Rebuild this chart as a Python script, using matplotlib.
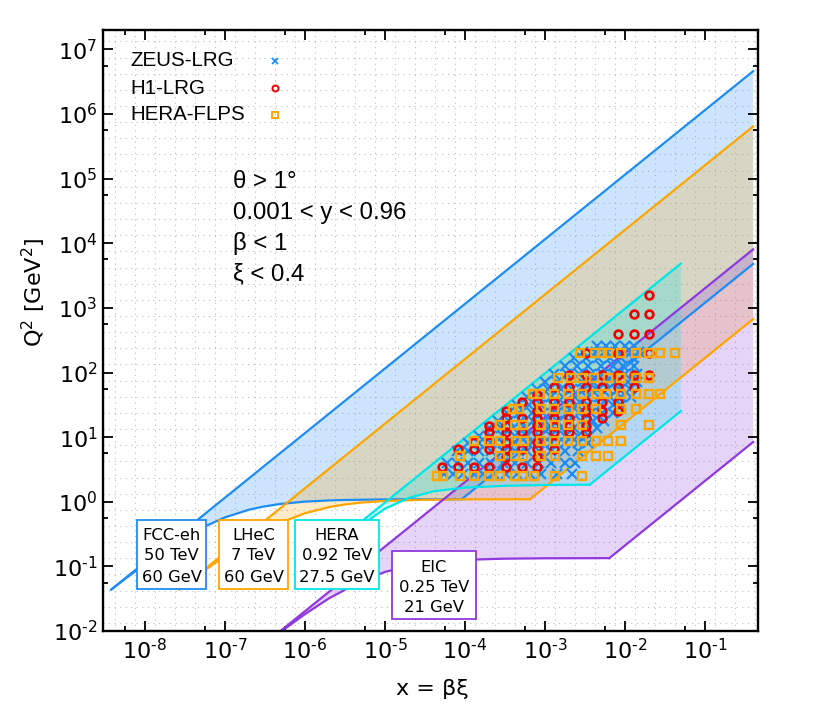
import numpy as np
import matplotlib
matplotlib.use('Agg')
import matplotlib.pyplot as plt
from matplotlib.patches import Rectangle
from matplotlib.ticker import FixedLocator, FuncFormatter, NullFormatter

# ---------------- data ----------------
# Kinematic region boundaries: x and Q2 [GeV^2]
fcc_upper_x, fcc_upper_q2 = [3.8e-9, 0.4], [0.0438, 4.61e6]
fcc_lower_x, fcc_lower_q2 = [9.13e-5, 0.4], [1.096, 4800.0]
fcc_theta_x = [3.8e-9, 6e-9, 1e-8, 2e-8, 3e-8, 5e-8, 1e-7, 2e-7, 3e-7, 5e-7, 1e-6, 2e-6, 3e-6, 1e-5, 3e-5, 9.13e-5]
fcc_theta_q2 = [0.0438, 0.0676, 0.108, 0.197, 0.271, 0.388, 0.573, 0.753, 0.841, 0.927, 1.005, 1.049, 1.064, 1.087, 1.093, 1.096]

lhec_upper_x, lhec_upper_q2 = [2.72e-8, 0.4], [0.0439, 6.45e5]
lhec_lower_x, lhec_lower_q2 = [6.52e-4, 0.4], [1.0955, 672.0]
lhec_theta_x = [2.72e-8, 5e-8, 1e-7, 2e-7, 3e-7, 5e-7, 1e-6, 2e-6, 3e-6, 5e-6, 1e-5, 3e-5, 1e-4, 6.52e-4]
lhec_theta_q2 = [0.0439, 0.078, 0.146, 0.257, 0.345, 0.476, 0.664, 0.827, 0.901, 0.970, 1.029, 1.073, 1.090, 1.0955]

hera_upper_x, hera_upper_q2 = [7.6e-7, 0.05], [0.0738, 4858.0]
hera_lower_x, hera_lower_q2 = [3.64e-3, 0.05], [1.84, 25.3]
hera_theta_x = [7.6e-7, 2e-6, 6e-6, 1e-5, 2e-5, 4e-5, 1e-4, 3e-4, 1e-3, 3.64e-3]
hera_theta_q2 = [0.0738, 0.19, 0.50, 0.78, 1.15, 1.45, 1.66, 1.76, 1.82, 1.84]

eic_upper_x, eic_upper_q2 = [2.66e-7, 0.4], [0.00537, 8064.0]
eic_lower_x, eic_lower_q2 = [6.38e-3, 0.4], [0.1342, 8.4]
eic_theta_x = [2.66e-7, 5e-7, 1e-6, 2e-6, 5e-6, 1e-5, 2e-5, 5e-5, 1e-4, 3e-4, 1e-3, 6.38e-3]
eic_theta_q2 = [0.00536, 0.00974, 0.0182, 0.032, 0.0589, 0.0819, 0.1018, 0.1191, 0.1262, 0.1315, 0.1334, 0.1342]

# Measurements: one Q2 value per row, with the x values of that row
zeus_q2 = [2.7, 4, 6, 8, 10.5, 14, 18, 24, 32, 42, 55, 72, 95, 125, 165, 210, 255]
zeus_x = [
    [5.5e-5, 7e-5, 9.5e-5, 1.3e-4, 1.7e-4, 2.3e-4, 3.3e-4, 4.5e-4, 6.5e-4, 9e-4, 1.4e-3, 2.2e-3],
    [6e-5, 8e-5, 1.1e-4, 1.5e-4, 2.1e-4, 3e-4, 4.2e-4, 6e-4, 8.5e-4, 1.2e-3, 1.8e-3, 2.4e-3],
    [8e-5, 1.1e-4, 1.5e-4, 2.1e-4, 3e-4, 4.2e-4, 6e-4, 8.5e-4, 1.2e-3, 1.8e-3, 2.6e-3],
    [1.1e-4, 1.5e-4, 2.1e-4, 3e-4, 4.2e-4, 6e-4, 8.5e-4, 1.2e-3, 1.8e-3, 2.6e-3, 3.5e-3],
    [1.5e-4, 2.1e-4, 3e-4, 4.2e-4, 6e-4, 8.5e-4, 1.2e-3, 1.8e-3, 2.6e-3, 3.6e-3],
    [2e-4, 2.8e-4, 4e-4, 5.6e-4, 8e-4, 1.1e-3, 1.6e-3, 2.3e-3, 3.3e-3, 4.5e-3],
    [2.6e-4, 3.6e-4, 5e-4, 7e-4, 1e-3, 1.4e-3, 2e-3, 2.8e-3, 4e-3, 5.5e-3],
    [3.4e-4, 4.8e-4, 6.8e-4, 9.5e-4, 1.3e-3, 1.9e-3, 2.7e-3, 3.8e-3, 5.2e-3, 7e-3],
    [4.5e-4, 6.3e-4, 9e-4, 1.25e-3, 1.8e-3, 2.5e-3, 3.5e-3, 5e-3, 7e-3, 9e-3],
    [6e-4, 8.5e-4, 1.2e-3, 1.7e-3, 2.4e-3, 3.4e-3, 4.7e-3, 6.5e-3, 9e-3, 1.2e-2],
    [8e-4, 1.1e-3, 1.6e-3, 2.2e-3, 3.1e-3, 4.4e-3, 6.2e-3, 8.5e-3, 1.15e-2],
    [1e-3, 1.4e-3, 2e-3, 2.9e-3, 4e-3, 5.6e-3, 7.8e-3, 1.1e-2, 1.4e-2],
    [1.3e-3, 1.9e-3, 2.7e-3, 3.8e-3, 5.3e-3, 7.4e-3, 1e-2, 1.4e-2],
    [1.8e-3, 2.5e-3, 3.5e-3, 5e-3, 7e-3, 9.5e-3, 1.3e-2],
    [2.3e-3, 3.3e-3, 4.6e-3, 6.5e-3, 9e-3, 1.25e-2],
    [3e-3, 4.3e-3, 6e-3, 8.5e-3, 1.2e-2, 1.5e-2],
    [4.5e-3, 5.8e-3, 7.5e-3, 1e-2, 1.3e-2],
]

h1_q2 = [3.5, 5, 6.5, 8.5, 12, 15, 20, 25, 35, 45, 60, 90, 200, 400, 800, 1600]
h1_x = [
    [5.1e-5, 8.1e-5, 1.29e-4, 2.02e-4, 3.26e-4, 5.2e-4, 7.9e-4],
    [3.26e-4, 7.9e-4],
    [8.1e-5, 1.29e-4, 2.02e-4, 3.26e-4, 5.2e-4, 7.9e-4, 1.28e-3],
    [1.29e-4, 2.02e-4, 3.26e-4, 7.9e-4, 1.28e-3],
    [2.02e-4, 3.26e-4, 5.2e-4, 7.9e-4, 1.28e-3, 2.01e-3, 3.24e-3],
    [2.02e-4, 3.26e-4, 7.9e-4, 1.28e-3, 2.01e-3, 3.24e-3],
    [3.26e-4, 5.2e-4, 7.9e-4, 1.28e-3, 2.01e-3, 3.24e-3, 5.1e-3],
    [3.26e-4, 7.9e-4, 1.28e-3, 3.24e-3, 5.1e-3, 8.1e-3],
    [5.2e-4, 7.9e-4, 1.28e-3, 2.01e-3, 3.24e-3, 5.1e-3, 8.1e-3],
    [7.9e-4],
    [1.28e-3, 2.01e-3, 3.24e-3, 5.1e-3, 8.1e-3, 1.29e-2],
    [2.01e-3, 3.24e-3, 5.1e-3, 8.1e-3, 1.29e-2, 2.0e-2],
    [3.24e-3, 8.1e-3, 2.0e-2],
    [8.1e-3, 1.29e-2, 2.0e-2],
    [1.29e-2, 2.0e-2],
    [2.0e-2],
]

flps_q2 = [2.5, 5.2, 8.8, 15.4, 27, 46, 83, 200]
flps_x = [
    [4.5e-5, 5.4e-5, 8.8e-5, 1.29e-4, 1.99e-4, 2.77e-4, 4.2e-4, 5.3e-4, 7.4e-4, 1.35e-3, 2.93e-3],
    [8.8e-5, 2.77e-4, 4.2e-4, 5.3e-4, 9.0e-4, 1.35e-3, 2.93e-3, 4.3e-3, 6.1e-3],
    [1.29e-4, 1.99e-4, 2.77e-4, 4.4e-4, 5.5e-4, 9.0e-4, 1.28e-3, 1.93e-3, 2.93e-3, 4.3e-3, 6.1e-3, 8.8e-3],
    [2.77e-4, 4.2e-4, 5.3e-4, 9.0e-4, 1.35e-3, 1.93e-3, 2.93e-3, 8.8e-3, 2.0e-2],
    [4.0e-4, 4.8e-4, 9.0e-4, 1.28e-3, 1.93e-3, 2.93e-3, 4.3e-3, 8.8e-3, 1.36e-2],
    [7.1e-4, 8.7e-4, 1.28e-3, 1.93e-3, 2.93e-3, 4.3e-3, 5.8e-3, 8.8e-3, 1.36e-2, 2.0e-2, 2.75e-2],
    [1.47e-3, 2.1e-3, 2.93e-3, 4.1e-3, 6.1e-3, 8.8e-3, 1.36e-2, 2.0e-2],
    [2.75e-3, 4.2e-3, 5.1e-3, 6.2e-3, 8.8e-3, 1.36e-2, 2.0e-2, 2.75e-2, 4.2e-2],
]

series_labels = ['ZEUS-LRG', 'H1-LRG', 'HERA-FLPS']
cut_labels = ['\u03b8 > 1\u00b0', '0.001 < y < 0.96', '\u03b2 < 1', '\u03be < 0.4']
fcc_label = ['FCC-eh', '50 TeV', '60 GeV']
lhec_label = ['LHeC', '7 TeV', '60 GeV']
hera_label = ['HERA', '0.92 TeV', '27.5 GeV']
eic_label = ['EIC', '0.25 TeV', '21 GeV']
x_major = [1e-8, 1e-7, 1e-6, 1e-5, 1e-4, 1e-3, 1e-2, 1e-1]
y_major = [1e-2, 1e-1, 1e0, 1e1, 1e2, 1e3, 1e4, 1e5, 1e6, 1e7]

# ---------------- style ----------------
C_FCC = '#1E8CF5'
C_LHEC = '#FFA500'
C_HERA = '#00E6E6'
C_EIC = '#9038E0'
C_H1 = '#F00000'
ALPHA = 0.22

W, H = 825, 709
plt.rcParams['mathtext.fontset'] = 'dejavusans'
plt.rcParams['mathtext.default'] = 'regular'
plt.rcParams['font.family'] = ['DejaVu Sans']

fig = plt.figure(figsize=(W / 100, H / 100), dpi=100)
L, R, T, B = 103, 758, 30, 631
ax = fig.add_axes([L / W, 1 - B / H, (R - L) / W, (B - T) / H])
ax.set_xscale('log')
ax.set_yscale('log')
ax.set_xlim(3e-9, 0.46)
ax.set_ylim(1e-2, 2e7)


def ax_xy(px, py):
    return (px - L) / (R - L), (B - py) / (B - T)


# dotted grid
for n in range(-10, 9):
    for k in range(4):
        v = 10 ** (n + 0.125 + 0.25 * k)
        ax.axvline(v, color='#bcbcbc', lw=0.8, ls=(0, (1, 4)), zorder=0.5)
        ax.axhline(v, color='#bcbcbc', lw=0.8, ls=(0, (1, 4)), zorder=0.5)


def region(ux, uq, lx, lq, tx, tq, color):
    px = list(ux) + list(lx[::-1]) + list(tx[::-1])
    pq = list(uq) + list(lq[::-1]) + list(tq[::-1])
    ax.fill(px, pq, color=color, alpha=ALPHA, lw=0, zorder=1)
    ax.plot(ux, uq, color=color, lw=1.6, zorder=2)
    ax.plot(lx, lq, color=color, lw=1.6, zorder=2)
    ax.plot(tx, tq, color=color, lw=1.6, zorder=2)


region(fcc_upper_x, fcc_upper_q2, fcc_lower_x, fcc_lower_q2, fcc_theta_x, fcc_theta_q2, C_FCC)
region(lhec_upper_x, lhec_upper_q2, lhec_lower_x, lhec_lower_q2, lhec_theta_x, lhec_theta_q2, C_LHEC)
region(eic_upper_x, eic_upper_q2, eic_lower_x, eic_lower_q2, eic_theta_x, eic_theta_q2, C_EIC)
region(hera_upper_x, hera_upper_q2, hera_lower_x, hera_lower_q2, hera_theta_x, hera_theta_q2, C_HERA)


def flatten(qs, xs):
    fx, fq = [], []
    for q, row in zip(qs, xs):
        for x in row:
            fx.append(x)
            fq.append(q)
    return fx, fq


zx, zq = flatten(zeus_q2, zeus_x)
hx, hq = flatten(h1_q2, h1_x)
fx, fq = flatten(flps_q2, flps_x)
ax.plot(zx, zq, ls='none', marker='x', ms=6.5, mew=1.6, color=C_FCC, zorder=3)
ax.plot(hx, hq, ls='none', marker='o', ms=5.6, mew=1.9, mfc='none', mec=C_H1, zorder=4)
ax.plot(fx, fq, ls='none', marker='s', ms=6.0, mew=1.7, mfc='none', mec=C_LHEC, zorder=5)

# legend (gnuplot style: text left, sample right)
leg_rows = [61, 88, 115]
leg_styles = [dict(marker='x', ms=4.5, mew=1.3, color=C_FCC),
              dict(marker='o', ms=4.3, mew=1.4, mfc='none', mec=C_H1),
              dict(marker='s', ms=4.6, mew=1.4, mfc='none', mec=C_LHEC)]
for lab, py, st in zip(series_labels, leg_rows, leg_styles):
    tx, ty = ax_xy(130, py)
    ax.text(tx, ty, lab, transform=ax.transAxes, ha='left', va='center',
            fontsize=14.8, family='Liberation Sans', zorder=6)
    mx, my = ax_xy(275, py)
    ax.plot([mx], [my], transform=ax.transAxes, ls='none', zorder=6, clip_on=False, **st)

# cut annotations
for lab, py in zip(cut_labels, [182, 213, 244, 274]):
    tx, ty = ax_xy(233, py)
    ax.text(tx, ty, lab, transform=ax.transAxes, ha='left', va='center',
            fontsize=17.3, family='Liberation Sans', zorder=6)

# collider boxes
boxes = [((137, 520, 206, 589), C_FCC, fcc_label, (535, 556, 577)),
         ((219, 520, 288, 589), C_LHEC, lhec_label, (535, 556, 577)),
         ((295, 520, 379, 589), C_HERA, hera_label, (535, 556, 577)),
         ((392, 551, 476, 619), C_EIC, eic_label, (567, 587, 607))]
for (x0, y0, x1, y1), col, lines, ys in boxes:
    ax0, ay1 = ax_xy(x0, y1)
    ax1_, ay0 = ax_xy(x1, y0)
    ax.add_patch(Rectangle((ax0, ay1), ax1_ - ax0, ay0 - ay1, transform=ax.transAxes,
                           facecolor='white', edgecolor=col, lw=1.3, zorder=7, clip_on=False))
    for s, py in zip(lines, ys):
        cx, cy = ax_xy((x0 + x1) / 2, py)
        ax.text(cx, cy, s, transform=ax.transAxes, ha='center', va='center',
                fontsize=11.8, zorder=8)

# axes, ticks
ax.xaxis.set_major_locator(FixedLocator(x_major))
ax.yaxis.set_major_locator(FixedLocator(y_major))
ax.xaxis.set_minor_locator(FixedLocator([10 ** (n + 0.75) for n in range(-10, 0)]))
ax.yaxis.set_minor_locator(FixedLocator([10 ** (n + 0.75) for n in range(-3, 8)]))
ax.xaxis.set_minor_formatter(NullFormatter())
ax.yaxis.set_minor_formatter(NullFormatter())


def fmt(v, pos):
    e = int(round(np.log10(v)))
    if e < 0:
        return r'$10^{\text{-}%d}$' % (-e)
    return r'$10^{%d}$' % e


ax.xaxis.set_major_formatter(FuncFormatter(fmt))
ax.yaxis.set_major_formatter(FuncFormatter(fmt))
ax.tick_params(which='both', direction='in', top=True, right=True, width=1.3, labelsize=16)
ax.tick_params(which='major', length=7.5)
ax.tick_params(which='minor', length=3.6)
ax.tick_params(axis='x', pad=5)
ax.tick_params(axis='y', pad=4)
for sp in ax.spines.values():
    sp.set_linewidth(1.7)
    sp.set_zorder(10)

ax.set_xlabel('x = \u03b2\u03be', fontsize=16)
ax.set_ylabel('Q$^2$ [GeV$^2$]', fontsize=16)
ax.xaxis.set_label_coords((432 - L) / (R - L), (B - 679) / (B - T))
ax.yaxis.set_label_coords((48 - L) / (R - L), (B - 292) / (B - T))

fig.savefig('out.png', dpi=100)
